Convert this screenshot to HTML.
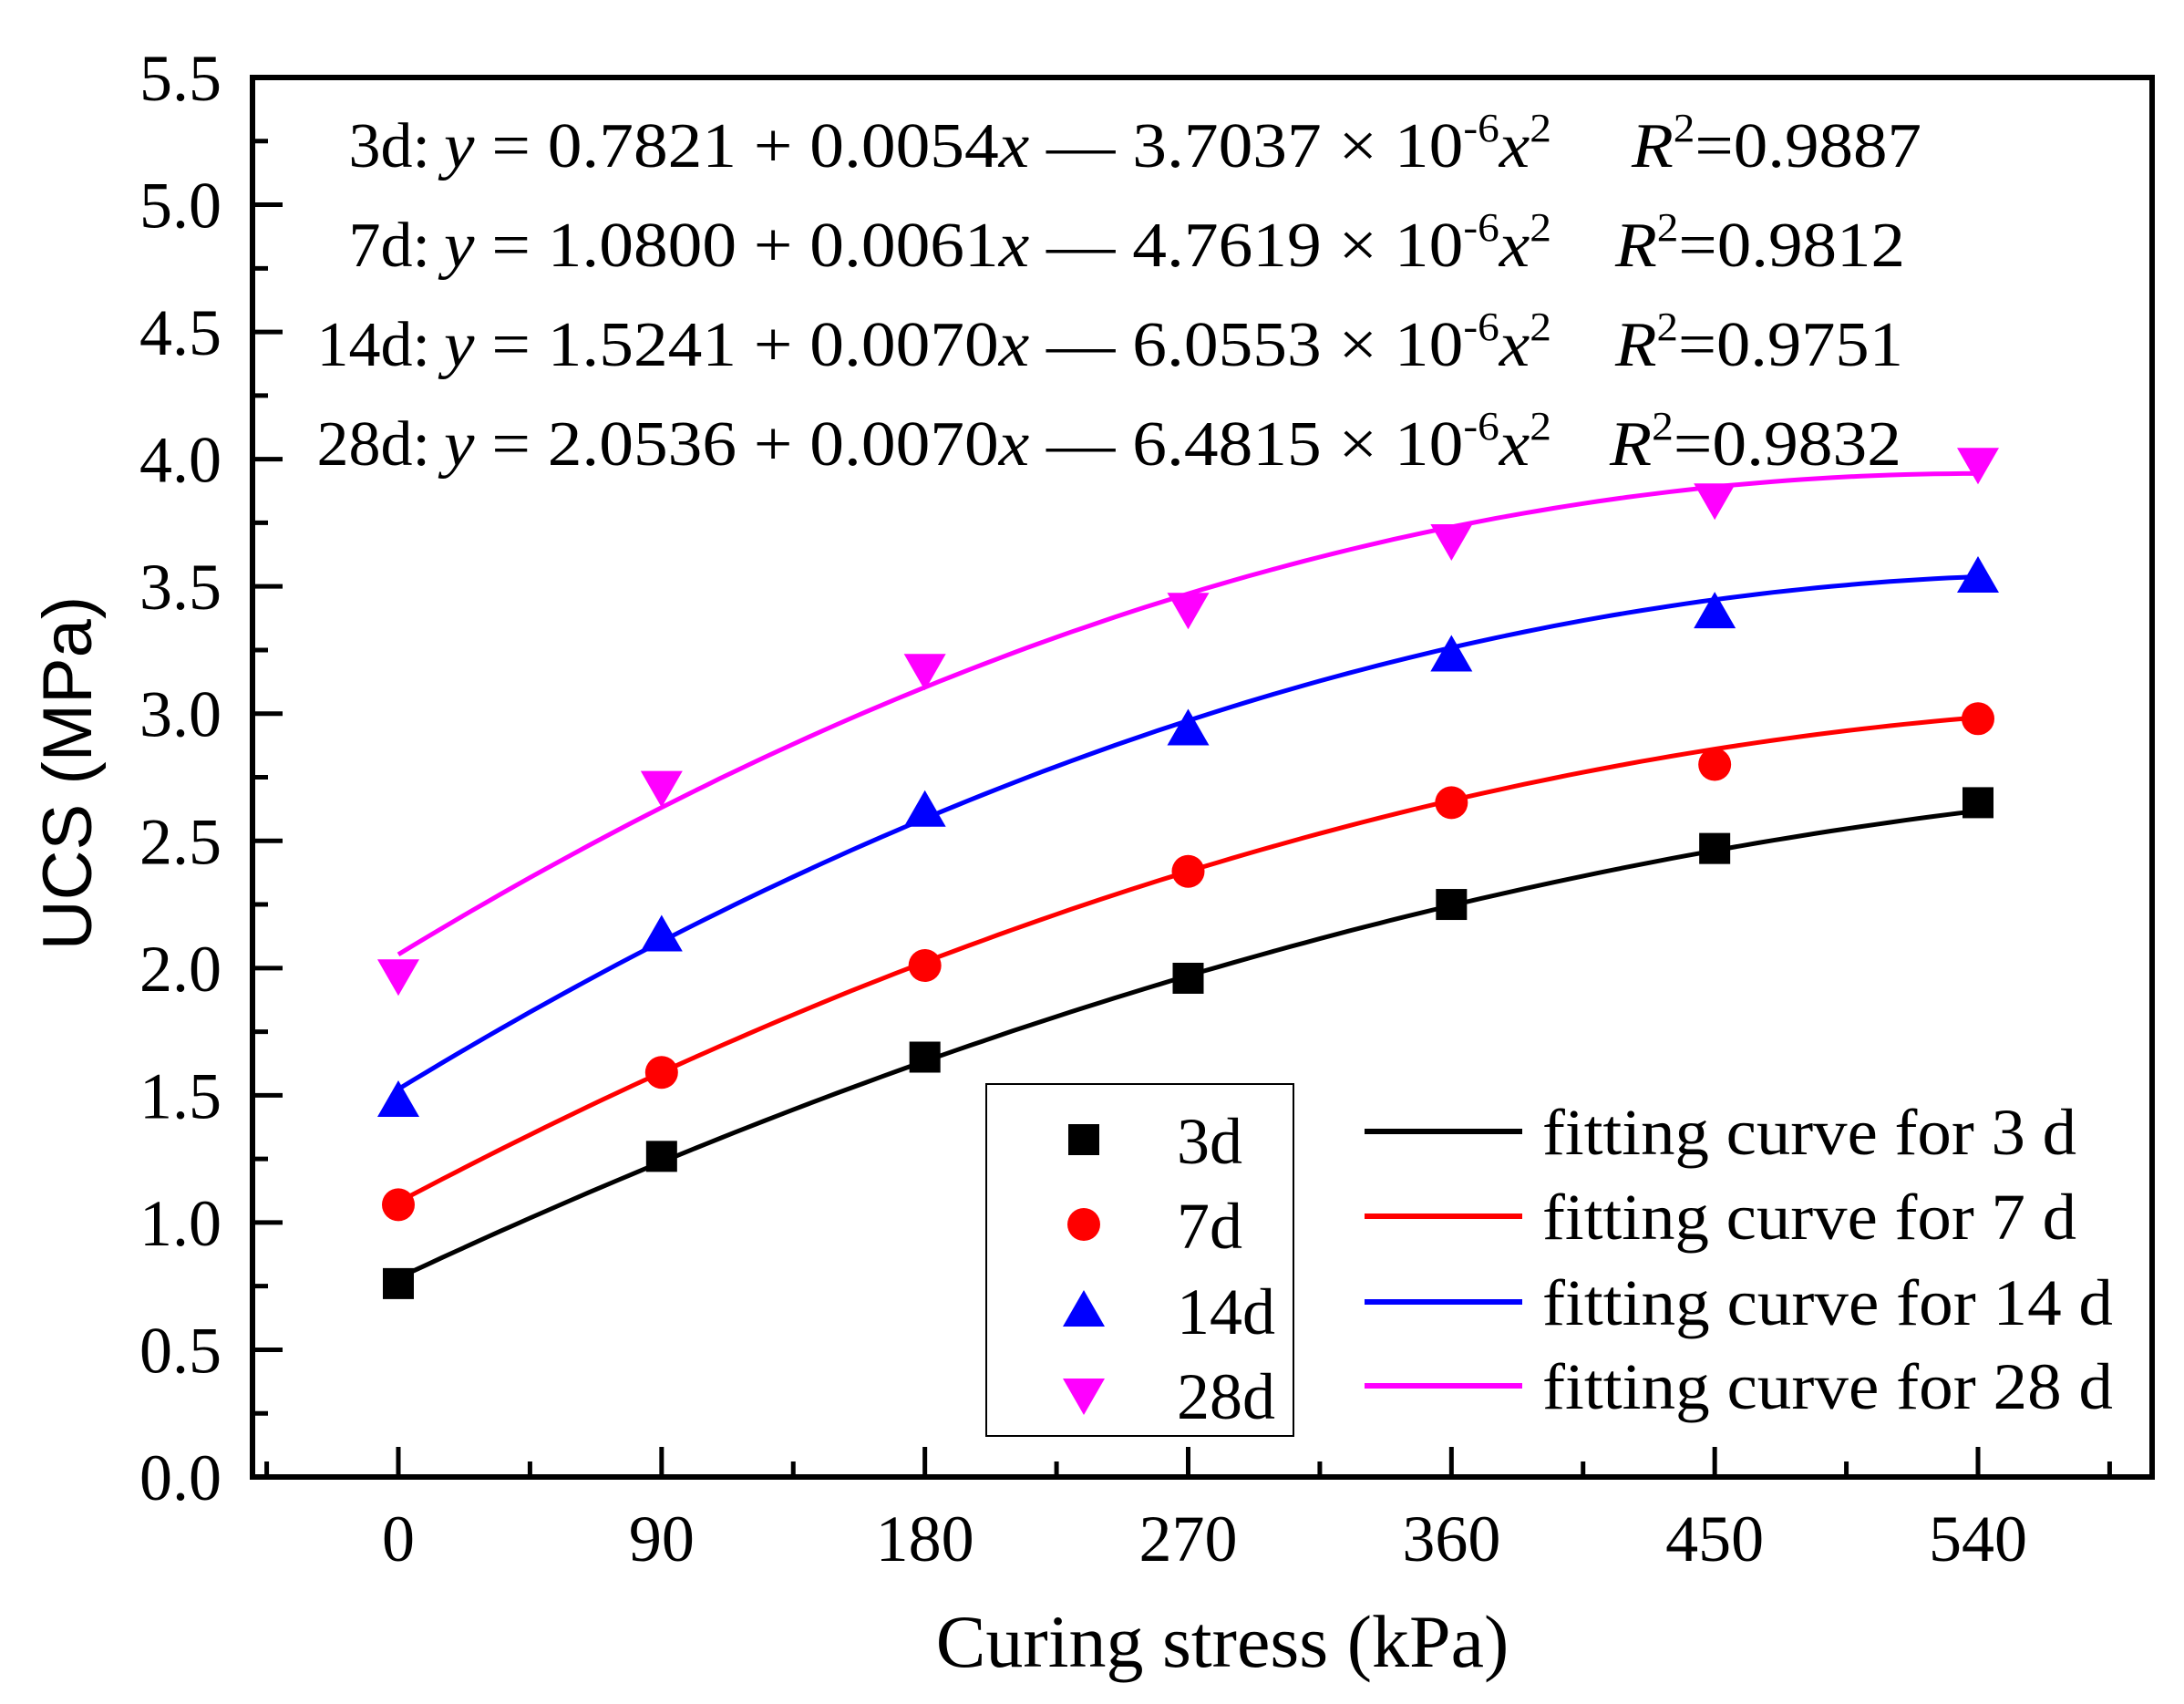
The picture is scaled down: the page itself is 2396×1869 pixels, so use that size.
<!DOCTYPE html>
<html><head><meta charset="utf-8"><style>
html,body{margin:0;padding:0;background:#fff;}
svg{display:block;font-family:"Liberation Serif",serif;}
</style></head><body>
<svg id="chart" width="2396" height="1869" viewBox="0 0 2396 1869" xmlns="http://www.w3.org/2000/svg">
<g id="axes"></g>
<g id="curves"></g>
<g id="points"></g>
<g id="eqs"></g>
<g id="legend"></g>
</svg>
<script>
const xCategories = [0, 90, 180, 270, 360, 450, 540];
const s3d = [0.76, 1.26, 1.65, 1.96, 2.25, 2.47, 2.65];
const s7d = [1.07, 1.59, 2.01, 2.38, 2.65, 2.80, 2.98];
const s14d = [1.48, 2.13, 2.62, 2.94, 3.23, 3.40, 3.54];
const s28d = [1.97, 2.71, 3.17, 3.41, 3.68, 3.84, 3.98];
const fitA = [0.7821, 1.0800, 1.5241, 2.0536];
const fitB = [0.0054, 0.0061, 0.0070, 0.0070];
const fitC = [-3.7037e-6, -4.7619e-6, -6.0553e-6, -6.4815e-6];
const rSquared = ["0.9887", "0.9812", "0.9751", "0.9832"];
const seriesNames = ["3d", "7d", "14d", "28d"];
const yTicks = ["0.0","0.5","1.0","1.5","2.0","2.5","3.0","3.5","4.0","4.5","5.0","5.5"];

const NS = "http://www.w3.org/2000/svg";
const L = 277, R = 2361, T = 85, B = 1620;
function X(v){ return 437 + (v - 0) * (2170 - 437) / 540; }
function Y(v){ return B - v * (B - T) / 5.5; }
function mk(tag, attrs, parent, text){
  const e = document.createElementNS(NS, tag);
  for (const k in attrs) e.setAttribute(k, attrs[k]);
  if (text !== undefined) e.textContent = text;
  parent.appendChild(e); return e;
}
const axes = document.getElementById('axes');
let fr = mk('rect', {x:L, y:T, width:R-L, height:B-T, fill:'none', stroke:'#000', 'stroke-width':6}, axes);


for (let i = 0; i <= 22; i++) {
  const v = i * 0.25, y = Y(v), major = i % 2 === 0;
  let t = mk('line', {x1:L, x2:L + (major ? 33 : 17), y1:y, y2:y, stroke:'#000', 'stroke-width':5}, axes);
  
  
  if (major) {
    let lb = mk('text', {x:243, y:y + 25, 'font-size':72, 'text-anchor':'end'}, axes, yTicks[i/2]);
    
    
  }
}
for (let v = -45; v <= 585; v += 45) {
  const x = X(v), major = (v % 90 === 0);
  let t = mk('line', {x1:x, x2:x, y1:B, y2:B - (major ? 33 : 17), stroke:'#000', 'stroke-width':5}, axes);
  
  
}
xCategories.forEach(v => {
  let lb = mk('text', {x:X(v), y:1712, 'font-size':72, 'text-anchor':'middle'}, axes, String(v));
  
  
});
let xt = mk('text', {x:1341, y:1828, 'font-size':82, 'text-anchor':'middle'}, axes, 'Curing stress (kPa)');


let yt = mk('text', {x:0, y:0, 'font-size':76, 'text-anchor':'middle', transform:'translate(100,848) rotate(-90)', 'font-family':'Liberation Sans, sans-serif'}, axes, 'UCS (MPa)');



const colors = ['#000000', '#ff0000', '#0000ff', '#ff00ff'];
const series = [s3d, s7d, s14d, s28d];
const curves = document.getElementById('curves');
for (let k = 0; k < 4; k++) {
  let d = '';
  for (let v = 0; v <= 540; v += 5) {
    const yv = fitA[k] + fitB[k]*v + fitC[k]*v*v;
    d += (v === 0 ? 'M' : 'L') + X(v).toFixed(1) + ',' + Y(yv).toFixed(1);
  }
  let p = mk('path', {d:d, fill:'none', stroke:colors[k], 'stroke-width':5}, curves);
  
  
}
function marker(k, cx, cy, parent){
  let e;
  if (k === 0) e = mk('rect', {x:cx-17, y:cy-17, width:34, height:34, fill:colors[0]}, parent);
  else if (k === 1) e = mk('circle', {cx:cx, cy:cy, r:18, fill:colors[1]}, parent);
  else if (k === 2) e = mk('polygon', {points:`${cx},${cy-22} ${cx+23},${cy+18} ${cx-23},${cy+18}`, fill:colors[2]}, parent);
  else e = mk('polygon', {points:`${cx},${cy+22} ${cx+23},${cy-18} ${cx-23},${cy-18}`, fill:colors[3]}, parent);
  return e;
}
const points = document.getElementById('points');
for (let k = 0; k < 4; k++) {
  series[k].forEach((v, i) => {
    let m = marker(k, X(xCategories[i]), Y(v), points);
    
    
  });
}
const eqs = document.getElementById('eqs');
const eqBase = [183, 292, 401, 510];
const r2X = [1790, 1772, 1772, 1766];
const r2W = [318, 318, 316, 320];
for (let k = 0; k < 4; k++) {
  const y = eqBase[k];
  let lb = mk('text', {x:472, y:y, 'font-size':70, 'text-anchor':'end'}, eqs, seriesNames[k] + ':');
  
  
  let t = mk('text', {x:487, y:y, 'font-size':70, textLength:1215, lengthAdjust:'spacingAndGlyphs'}, eqs);
  
  
  const c = (-fitC[k] * 1e6).toFixed(4);
  t.innerHTML = `<tspan font-style="italic">y</tspan> = ${fitA[k].toFixed(4)} + ${fitB[k].toFixed(4)}<tspan font-style="italic">x</tspan> — ${c} × 10<tspan font-size="44" dy="-28">-6</tspan><tspan font-style="italic" dy="28">x</tspan><tspan font-size="44" dy="-28">2</tspan>`;
  let r = mk('text', {x:r2X[k], y:y, 'font-size':70, textLength:r2W[k], lengthAdjust:'spacingAndGlyphs'}, eqs);
  
  
  r.innerHTML = `<tspan font-style="italic">R</tspan><tspan font-size="44" dy="-28">2</tspan><tspan dy="28">=${rSquared[k]}</tspan>`;
}
const legend = document.getElementById('legend');
let lbx = mk('rect', {x:1082, y:1189, width:337, height:386, fill:'#fff', stroke:'#000', 'stroke-width':2}, legend);


const symRows = [1250, 1343, 1437, 1530];
const lineRows = [1241, 1334, 1428, 1520];
const lineTextW = [586, 586, 626, 626];
for (let k = 0; k < 4; k++) {
  let m = marker(k, 1189, symRows[k], legend);
  
  
  let t = mk('text', {x:1291, y:symRows[k] + 26, 'font-size':72}, legend, seriesNames[k]);
  
  
  let ln = mk('line', {x1:1497, x2:1670, y1:lineRows[k], y2:lineRows[k], stroke:colors[k], 'stroke-width':6}, legend);
  
  
  const lab = 'fitting curve for ' + seriesNames[k].replace('d', ' d');
  let lt = mk('text', {x:1692, y:lineRows[k] + 25, 'font-size':72, textLength:lineTextW[k], lengthAdjust:'spacingAndGlyphs'}, legend, lab);
  
  
}
</script>
</body></html>
